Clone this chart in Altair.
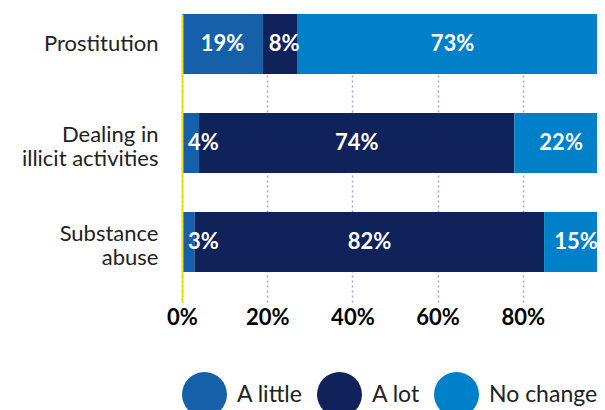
import altair as alt
import pandas as pd

categories = ["Prostitution", "Dealing in|illicit activities", "Substance|abuse"]
series = ["A little", "A lot", "No change"]
a_little = [19, 4, 3]
a_lot = [8, 74, 82]
no_change = [73, 22, 15]
x_ticks = [0, 20, 40, 60, 80]
colors = ["#1560a8", "#0f235a", "#0080c8"]

rows = []
for i, c in enumerate(categories):
    for j, (s, vals) in enumerate(zip(series, [a_little, a_lot, no_change])):
        rows.append({"category": c, "series": s, "order": j, "value": vals[i]})
df = pd.DataFrame(rows)

FONT = "Lato"

base = alt.Chart(df).transform_stack(
    stack="value", groupby=["category"], as_=["x0", "x1"],
    sort=[alt.SortField("order", order="ascending")]
).transform_calculate(
    mid="max((datum.x0 + datum.x1) / 2, datum.x0 + 5)",
    label="datum.value + '%'"
)

yenc = alt.Y("category:N", sort=categories, title=None,
             scale=alt.Scale(paddingInner=0.394, paddingOuter=0.1515, align=0),
             axis=alt.Axis(labelExpr="split(datum.label, '|')", labelFont=FONT,
                           labelFontSize=22, labelColor="#222222", labelPadding=24,
                           labelLineHeight=24, ticks=False, domain=True,
                           labelOffset={"expr": "indexof(datum.label, '|') >= 0 ? -8 : 0"},
                           domainColor="#f5d90a", domainWidth=2, grid=False, zindex=1))

xscale = alt.Scale(domain=[0, 100], range=[0, 426], nice=False)

bars = base.mark_bar(stroke=None).encode(
    x=alt.X("x0:Q", scale=xscale, title=None,
            axis=alt.Axis(values=x_ticks, format="d", labelExpr="datum.value + '%'",
                          labelFont=FONT, labelFontSize=22, labelFontWeight="bold",
                          labelColor="#000000", labelPadding=5, labelFlush=False,
                          ticks=False, domain=False, grid=True,
                          gridColor="#aaa4d4", gridDash=[2, 3], gridWidth=1.5)),
    x2="x1:Q",
    y=yenc,
    color=alt.Color("series:N", sort=series,
                    scale=alt.Scale(domain=series, range=colors),
                    legend=alt.Legend(title=None, orient="none", direction="horizontal",
                                      legendX=0, legendY=358, symbolType="circle",
                                      symbolSize=2025, symbolStrokeWidth=0,
                                      labelFont=FONT, labelFontSize=23,
                                      labelColor="#222222", labelOffset=10,
                                      columnPadding=14, padding=0)),
)

texts = base.mark_text(font=FONT, fontSize=22, fontWeight="bold", color="white",
                       align="center", baseline="middle").encode(
    x=alt.X("mid:Q", scale=xscale),
    y=alt.Y("category:N", sort=categories),
    text="label:N",
)

chart = alt.layer(bars, texts).properties(
    width=415, height=288,
    autosize=alt.AutoSizeParams(type="none"),
    padding={"left": 174, "top": 6, "right": 0, "bottom": 108},
).configure_view(stroke=None)

chart.save("out.html", embed_options={"renderer": "svg", "actions": False})
